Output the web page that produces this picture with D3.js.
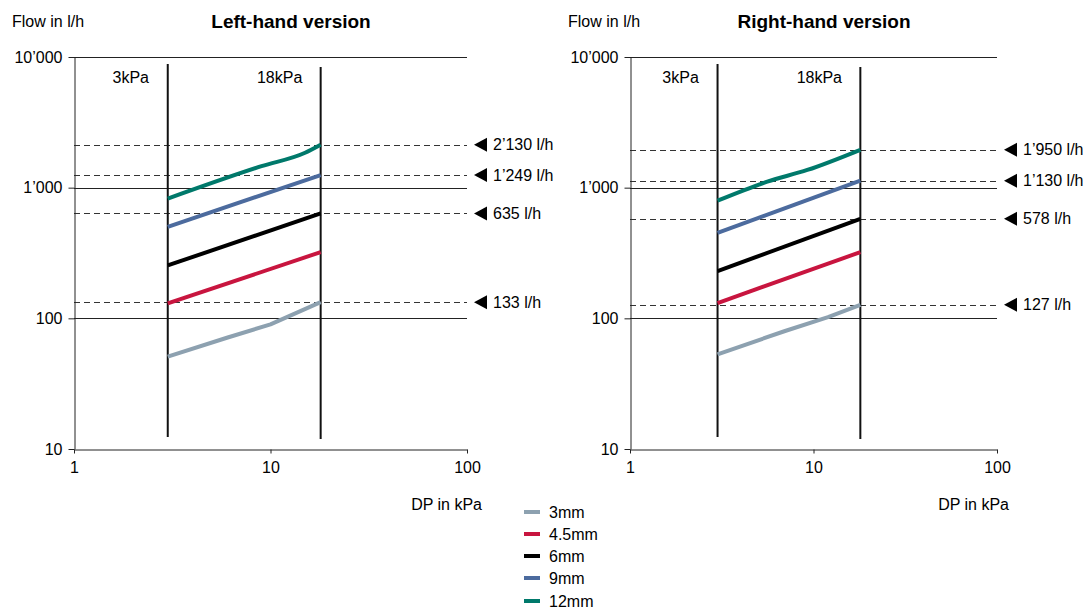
<!DOCTYPE html>
<html>
<head>
<meta charset="utf-8">
<script src="https://cdn.jsdelivr.net/npm/d3@7/dist/d3.min.js"></script>
<style>
  body { margin: 0; background: #fff; }
  svg { font-family: "Liberation Sans", Arial, sans-serif; }
</style>
</head>
<body>
<svg width="1090" height="610"></svg>
<script>
// sizes shown in the legend, same order for every curve array
var sizes = ["3mm", "4.5mm", "6mm", "9mm", "12mm"];
var colors = ["#8DA1B0", "#C8153F", "#000000", "#4C6B9E", "#00796B"];

// [DP in kPa, flow in l/h]
var leftCurves = [
    [[3, 51], [6, 71], [10, 90], [18, 133]],
    [[3, 130], [18, 321]],
    [[3, 254], [18, 635]],
    [[3, 502], [18, 1249]],
    [[3, 824], [9, 1460], [15, 1850], [18, 2130]]
];
var rightCurves = [
    [[3, 53], [7, 80], [12, 102], [18, 127]],
    [[3, 131], [18, 321]],
    [[3, 230], [18, 578]],
    [[3, 450], [18, 1130]],
    [[3, 795], [5.6, 1111], [9.25, 1366], [18, 1950]]
];

var leftMarkers = [2130, 1249, 635, 133];
var rightMarkers = [1950, 1130, 578, 127];

var limitDp = [3, 18];
var limitLabels = ["3kPa", "18kPa"];
var xTicks = [1, 10, 100];
var yTicks = [10, 100, 1000, 10000];

var svg = d3.select("svg");
var fs = "16px";

function fmt(v) {
    return d3.format(",")(v).replace(/,/g, "\u2019");
}

function drawPanel(cfg) {
    var x = d3.scaleLog().domain([1, 100]).range([cfg.x0, cfg.x1]);
    var y = d3.scaleLog().domain([10, 10000]).range([449, 57]);
    var g = svg.append("g");

    // "Flow in l/h" and title
    g.append("text")
        .attr("x", cfg.x0 - 62)
        .attr("y", 27)
        .style("font-size", fs)
        .text("Flow in l/h");
    g.append("text")
        .attr("x", cfg.titleX)
        .attr("y", 28)
        .attr("text-anchor", "middle")
        .attr("font-weight", "bold")
        .style("font-size", "19px")
        .text(cfg.title);

    // horizontal grid lines
    g.selectAll(".grid")
        .data(yTicks.slice(1))
        .enter().append("line")
        .attr("x1", cfg.x0).attr("x2", cfg.x1)
        .attr("y1", function(d) { return Math.round(y(d)) + 0.5; })
        .attr("y2", function(d) { return Math.round(y(d)) + 0.5; })
        .style("stroke", "#222")
        .style("stroke-width", 1);

    // dashed lines to the flow markers
    g.selectAll(".mark")
        .data(cfg.markers)
        .enter().append("line")
        .attr("x1", cfg.x0).attr("x2", cfg.x1)
        .attr("y1", function(d) { return Math.round(y(d)) + 0.5; })
        .attr("y2", function(d) { return Math.round(y(d)) + 0.5; })
        .style("stroke", "#333")
        .style("stroke-width", 1)
        .style("stroke-dasharray", "6,4");

    // axes
    var yAxis = d3.axisLeft(y)
        .tickValues(yTicks)
        .tickSize(6)
        .tickSizeOuter(0)
        .tickPadding(6)
        .tickFormat(fmt);
    g.append("g")
        .attr("transform", "translate(" + (cfg.x0 + 0.5) + ",0)")
        .call(yAxis)
        .call(function(a) {
            a.selectAll("text").style("font-size", fs).attr("fill", "#000");
            a.selectAll("line, path").attr("stroke", "#222");
        });

    var xAxis = d3.axisBottom(x)
        .tickValues(xTicks)
        .tickSize(4)
        .tickSizeOuter(0)
        .tickPadding(8)
        .tickFormat(d3.format("d"));
    g.append("g")
        .attr("transform", "translate(0," + 449.5 + ")")
        .call(xAxis)
        .call(function(a) {
            a.selectAll("text").style("font-size", fs).attr("fill", "#000");
            a.selectAll("line, path").attr("stroke", "#222");
        });

    g.append("text")
        .attr("x", cfg.dpX)
        .attr("y", 510)
        .attr("text-anchor", "end")
        .style("font-size", fs)
        .text("DP in kPa");

    // 3kPa / 18kPa limit lines
    var vTop = [64, 67], vBot = [437, 439];
    g.selectAll(".limit")
        .data(limitDp)
        .enter().append("line")
        .attr("x1", function(d) { return x(d); })
        .attr("x2", function(d) { return x(d); })
        .attr("y1", function(d, i) { return vTop[i]; })
        .attr("y2", function(d, i) { return vBot[i]; })
        .style("stroke", "#111")
        .style("stroke-width", 2);

    g.selectAll(".limitLabel")
        .data(limitDp)
        .enter().append("text")
        .attr("x", function(d, i) { return i == 0 ? x(d) - 37 : x(d) - 41; })
        .attr("y", 83)
        .attr("text-anchor", "middle")
        .style("font-size", fs)
        .text(function(d, i) { return limitLabels[i]; });

    // curves (the 3mm one is drawn with straight segments, others smoothed)
    var smooth = d3.line()
        .curve(d3.curveMonotoneX)
        .x(function(d) { return x(d[0]); })
        .y(function(d) { return y(d[1]); });
    var straight = d3.line()
        .x(function(d) { return x(d[0]); })
        .y(function(d) { return y(d[1]); });

    g.selectAll(".curve")
        .data(cfg.curves)
        .enter().append("path")
        .attr("d", function(d, i) { return i == 0 ? straight(d) : smooth(d); })
        .style("fill", "none")
        .style("stroke", function(d, i) { return colors[i]; })
        .style("stroke-width", 4)
        .style("stroke-linejoin", "round");

    // arrows + labels
    var ax = cfg.x1 + 7;
    g.selectAll(".arrow")
        .data(cfg.markers)
        .enter().append("path")
        .attr("d", function(d) {
            var yy = y(d);
            return "M" + ax + "," + yy + "L" + (ax + 13) + "," + (yy - 7) + "L" + (ax + 13) + "," + (yy + 7) + "Z";
        })
        .style("fill", "#000");

    g.selectAll(".markLabel")
        .data(cfg.markers)
        .enter().append("text")
        .attr("x", ax + 19)
        .attr("y", function(d) { return y(d) + 5.5; })
        .style("font-size", fs)
        .text(function(d) { return fmt(d) + " l/h"; });
}

drawPanel({ x0: 74, x1: 467, titleX: 291, title: "Left-hand version", dpX: 482,
    curves: leftCurves, markers: leftMarkers });
drawPanel({ x0: 630, x1: 997, titleX: 824, title: "Right-hand version", dpX: 1009,
    curves: rightCurves, markers: rightMarkers });

// legend
var legend = svg.append("g").attr("transform", "translate(524,0)");
var legendY = [512, 534, 556, 578, 601];
legend.selectAll("line")
    .data(sizes)
    .enter().append("line")
    .attr("x1", 0).attr("x2", 16)
    .attr("y1", function(d, i) { return legendY[i]; })
    .attr("y2", function(d, i) { return legendY[i]; })
    .style("stroke", function(d, i) { return colors[i]; })
    .style("stroke-width", 4);
legend.selectAll("text")
    .data(sizes)
    .enter().append("text")
    .attr("x", 25)
    .attr("y", function(d, i) { return legendY[i] + 5.5; })
    .style("font-size", fs)
    .text(function(d) { return d; });
</script>
</body>
</html>
